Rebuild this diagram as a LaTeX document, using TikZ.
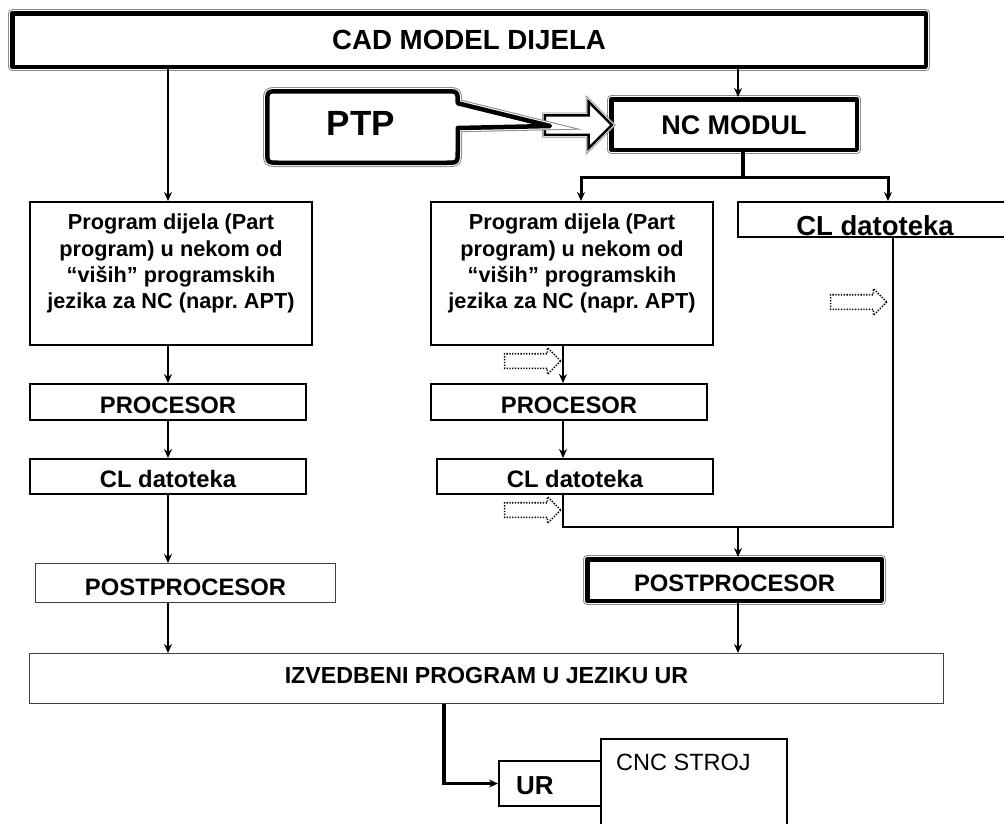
\documentclass[tikz,border=0pt]{standalone}
\usepackage{fontspec}
\setmainfont{Liberation Sans}
\usetikzlibrary{positioning,arrows.meta,shapes.arrows}
\newcommand{\fsz}[2]{\fontsize{#1}{#2}\selectfont}

\begin{document}
\begin{tikzpicture}[x=1pt,y=-1pt,>={Stealth[length=9pt,width=8pt]},
		box/.style={rectangle,draw=black,line width=2pt,fill=white,inner sep=0pt,
			text height=22pt,text depth=0pt,font=\bfseries\fsz{23.8}{28}},
		thinbox/.style={box,draw=black!75,line width=1.3pt},
		heavyline/.style={draw=black,line width=4.5pt,fill=white,line join=round,
			preaction={draw=black!45,line width=8.5pt},preaction={draw=white,line width=6.5pt}},
		heavy/.style={box,heavyline},
		arrowline/.style={draw=black,line width=2.5pt,fill=white,
			preaction={draw=black!45,line width=5.5pt},preaction={draw=white,line width=4pt}},
		dotarrow/.style={single arrow,draw=black,dash pattern=on 1.3pt off 1.5pt,line width=1.6pt,inner sep=0pt,
			text height=6.5pt,text depth=6.5pt,minimum height=56pt,minimum width=25pt,single arrow head extend=6pt},
		link/.style={line width=2pt}]
		\useasboundingbox (0,0) rectangle (1004,823);
		
		\coordinate (colA) at (168,0);
		\coordinate (colB) at (563,0);
		\coordinate (colC) at (893,0);
		\coordinate (colD) at (444,0);
		\coordinate (colE) at (738,0);
		\coordinate (colF) at (581,0);
		\coordinate (colG) at (888,0);
		\coordinate (stem) at (743,177);
		\coordinate (merge) at (738,527);
		
		\node[heavy,minimum width=913.5pt,minimum height=53.5pt,font=\bfseries\fsz{27.7}{32},
			text height=19.5pt] (cad) at (469,40) {CAD MODEL DIJELA};
		\node[heavy,minimum width=245.5pt,minimum height=50.5pt,font=\bfseries\fsz{27}{32},
			text height=20.4pt] (ncmod) at (734,124.5) {NC MODUL};
		
		\node[single arrow,arrowline,inner sep=0pt,text height=8.5pt,text depth=8.5pt,
			minimum height=67pt,minimum width=44pt,single arrow head extend=13.5pt] (push) at (573.5,125) {};
		\draw[heavyline] (550,126) -- (457.75,128) -- (457.75,150.75) .. controls (457.75,162.75) .. (445.75,162.75)
			-- (279.25,162.75) .. controls (267.25,162.75) .. (267.25,150.75)
			-- (267.25,103.25) .. controls (267.25,91.25) .. (279.25,91.25)
			-- (445.75,91.25) .. controls (457.75,91.25) .. (457.75,103.25) -- cycle;
		\node[font=\bfseries\fsz{35}{40}] (ptp) at (361,123) {PTP};
		
		\node[box,minimum width=282pt,minimum height=143pt] (prog1) at (171,273.5) {};
		\node[box,minimum width=282pt,minimum height=143pt] (prog2) at (572,273.5) {};
		\node[font=\bfseries\fsz{21.7}{26.3},align=center,inner sep=0pt,below=13pt of prog1.north] (txt1)
			{Program dijela (Part\\program) u nekom od\\“viših” programskih\\jezika za NC (napr.\ APT)};
		\node[font=\bfseries\fsz{21.7}{26.3},align=center,inner sep=0pt,below=13pt of prog2.north] (txt2)
			{Program dijela (Part\\program) u nekom od\\“viših” programskih\\jezika za NC (napr.\ APT)};
		\node[box,minimum width=274pt,minimum height=35pt,font=\bfseries\fsz{27.5}{32},
			text height=31pt] (cl3) at (875,219.5) {CL datoteka};
		
		\node[box,minimum width=276pt,minimum height=36pt,text height=22.4pt] (proc1) at (168,402) {PROCESOR};
		\node[box,minimum width=276pt,minimum height=35pt,text height=21.6pt] (cl1) at (168,476.5) {CL datoteka};
		\node[box,minimum width=276pt,minimum height=36pt,text height=22.4pt] (proc2) at (569,402) {PROCESOR};
		\node[box,minimum width=276pt,minimum height=35pt,text height=21.6pt] (cl2) at (575,476.5) {CL datoteka};
		
		\node[thinbox,minimum width=299.7pt,minimum height=38.7pt,font=\bfseries\fsz{23.8}{28},
			text height=24.8pt] (post1) at (185.5,583) {POSTPROCESOR};
		\node[heavy,minimum width=294.5pt,minimum height=41.5pt,font=\bfseries\fsz{23.8}{28},
			text height=23pt] (post2) at (734.5,580) {POSTPROCESOR};
		\node[thinbox,minimum width=913.7pt,minimum height=49.7pt,font=\bfseries\fsz{23.2}{27},
			text height=9.2pt] (izv) at (486.5,678.5) {IZVEDBENI PROGRAM U JEZIKU UR};
		
		\node[box,minimum width=102pt,minimum height=45pt,font=\bfseries\fsz{26}{30},
			text width=68pt,inner xsep=17pt,align=left,text height=21.6pt] (ur) at (550,783.5) {UR};
		\node[box,minimum width=186pt,minimum height=112pt,
			label={[anchor=north west,inner sep=0pt,font=\mdseries\fsz{23.5}{28},xshift=16pt,yshift=-15.6pt]north west:CNC STROJ}] (cnc) at (694,795) {};
		
		\node[dotarrow] (d1) at (529,361) {};
		\node[dotarrow] (d2) at (529,510) {};
		\node[dotarrow] (d3) at (855,302) {};
		
		\draw[link,->] (cad.south -| colA) -- (prog1.north -| colA);
		\foreach \a/\b in {prog1/proc1,proc1/cl1,cl1/post1,post1/izv}
			\draw[link,->] (\a.south -| colA) -- (\b.north -| colA);
		\foreach \a/\b in {prog2/proc2,proc2/cl2}
			\draw[link,->] (\a.south -| colB) -- (\b.north -| colB);
		\draw[link,->] (cad.south -| colE) -- (ncmod.north -| colE);
		\draw[line width=3.5pt] (ncmod.south -| stem) -- (stem);
		\draw[line width=3pt,->] (stem) -| (colF |- prog2.north);
		\draw[line width=3pt,->] (stem) -| (colG |- cl3.north);
		\draw[link] (cl2.south -| colB) |- (colC |- merge) -- (cl3.south -| colC);
		\draw[link,->] (merge) -- (post2.north -| merge);
		\draw[link,->] (post2.south -| merge) -- (izv.north -| merge);
		\draw[line width=3.5pt,->] (izv.south -| colD) |- (ur.west);
\end{tikzpicture}
\end{document}
